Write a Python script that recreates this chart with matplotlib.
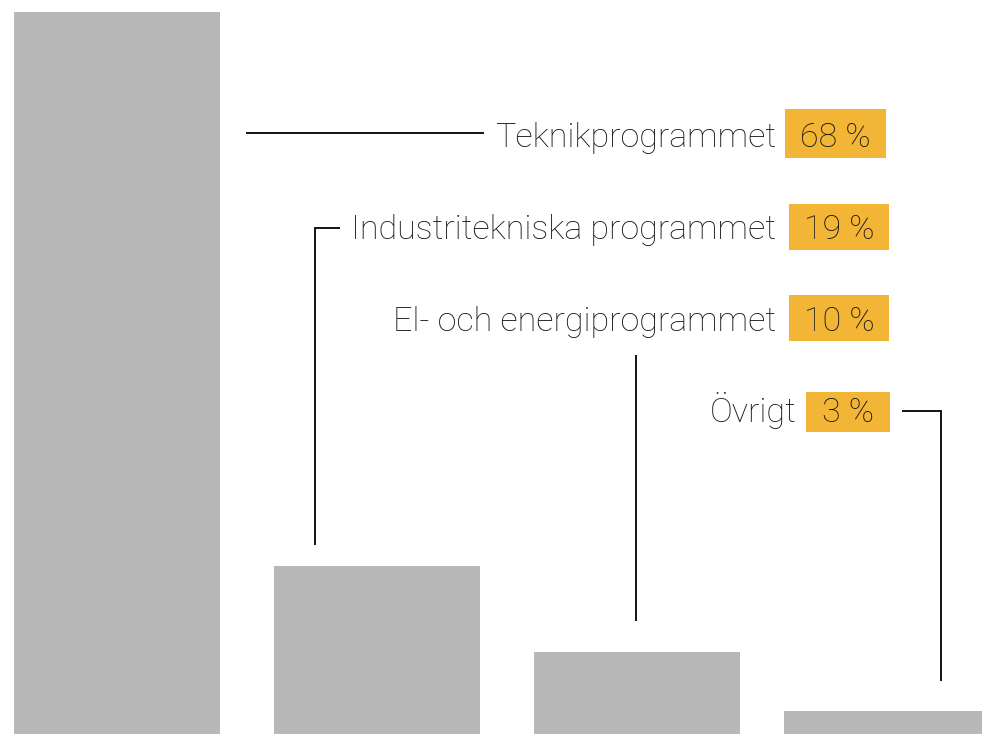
import matplotlib
matplotlib.use("Agg")
import matplotlib.pyplot as plt
from matplotlib.patches import Rectangle
from matplotlib.transforms import Affine2D

# data
programs = ["Teknikprogrammet", "Industritekniska programmet",
            "El- och energiprogrammet", "Övrigt"]
shares = [68, 19, 10, 3]              # printed percentages
bar_heights = [68, 15.8, 7.7, 2.2]    # bar heights as drawn in the picture

W, H = 982, 734
BAR = "#b8b8b8"
GOLD = "#f2b535"
INK = "#161616"

plt.rcParams["font.family"] = ["Roboto", "DejaVu Sans"]

fig = plt.figure(figsize=(W / 100, H / 100), dpi=100)
ax = fig.add_axes([0, 0, 1, 1])
ax.axis("off")

xs = [0, 1, 2, 2.96]
ax.bar(xs, bar_heights, width=0.792, color=BAR, linewidth=0)
ax.set_xlim(-0.45, 3.327)
ax.set_ylim(0, 69.13)

# pixel coords, origin top-left
pix = Affine2D().scale(1 / W, -1 / H).translate(0, 1) + fig.transFigure

# label layout: (label right edge, baseline, box x0, box x1, box y0, box y1)
layout = [
    (776, 147, 785, 886, 109, 158),
    (776, 239, 789, 889, 204, 250),
    (776, 331, 789, 889, 295, 341),
    (797, 422, 806, 890, 392, 432),
]
for name, val, (tx, by, x0, x1, y0, y1) in zip(programs, shares, layout):
    ax.text(tx, by, name, transform=pix, ha="right", va="baseline",
            fontsize=24.5, fontweight="light", color=INK)
    ax.add_patch(Rectangle((x0, y0), x1 - x0, y1 - y0, transform=pix,
                           facecolor=GOLD, edgecolor="none",
                           clip_on=False, zorder=4))
    ax.text((x0 + x1) / 2, by, f"{val} %", transform=pix, ha="center",
            va="baseline", fontsize=24.5, fontweight="light", color=INK,
            zorder=5)

# leader lines
lines = [
    ([246, 484], [133, 133]),
    ([315, 315, 340], [545, 228, 228]),
    ([636, 636], [621, 355]),
    ([902, 941, 941], [411, 411, 681]),
]
for lx, ly in lines:
    ax.plot(lx, ly, transform=pix, color="black", lw=1.3, clip_on=False,
            solid_capstyle="butt", solid_joinstyle="miter")

fig.savefig("out.png", dpi=100)
